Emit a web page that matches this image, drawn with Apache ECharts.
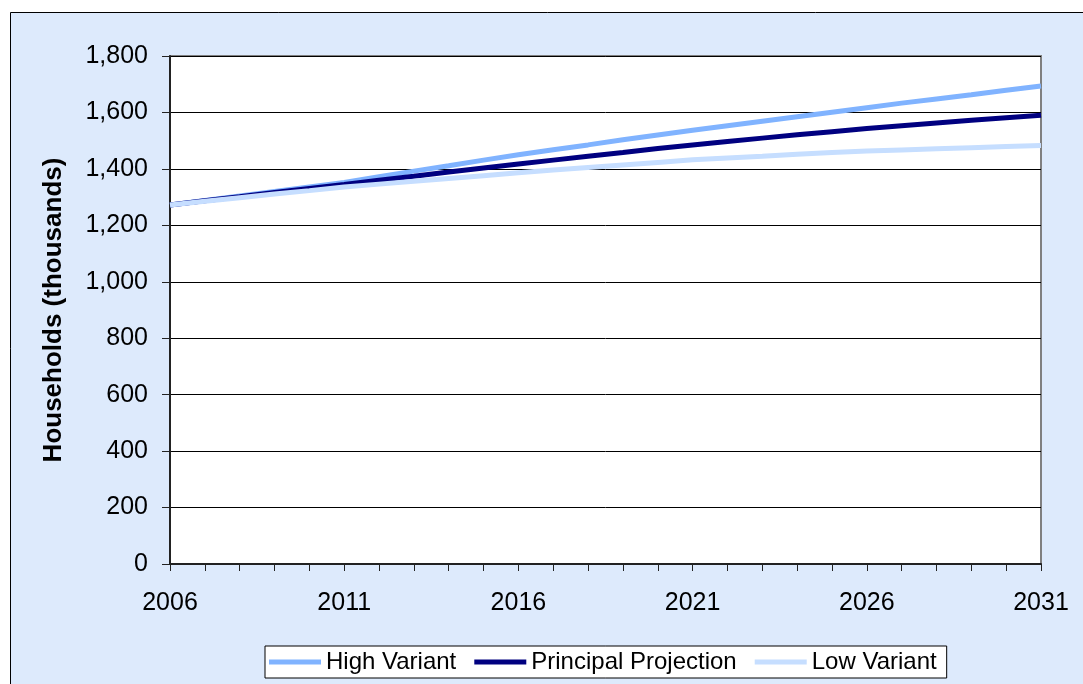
<!DOCTYPE html>
<html>
<head>
<meta charset="utf-8">
<title>Households projections</title>
<script src="https://cdn.jsdelivr.net/npm/echarts@6/dist/echarts.min.js"></script>
<style>
  html, body { margin: 0; padding: 0; background: #fff; }
  #newCharts { width: 1083px; height: 684px; }
</style>
</head>
<body>
<div id="newCharts"></div>
<script>
// 年份
const years = ['2006', '2007', '2008', '2009', '2010', '2011', '2012', '2013', '2014', '2015',
  '2016', '2017', '2018', '2019', '2020', '2021', '2022', '2023', '2024', '2025',
  '2026', '2027', '2028', '2029', '2030', '2031'];
// households, thousands
const highVariant = [1272, 1288, 1304, 1320, 1336, 1352, 1372, 1392, 1411, 1431,
  1450, 1468, 1485, 1503, 1520, 1537, 1553, 1569, 1585, 1601,
  1617, 1633, 1648, 1663, 1679, 1694];
const principalProjection = [1272, 1287, 1301, 1316, 1331, 1345, 1360, 1374, 1389, 1403,
  1417, 1431, 1445, 1458, 1472, 1485, 1497, 1509, 1521, 1532,
  1543, 1553, 1563, 1572, 1581, 1590];
const lowVariant = [1272, 1285, 1298, 1311, 1323, 1336, 1346, 1356, 1366, 1376,
  1386, 1396, 1405, 1414, 1423, 1432, 1439, 1445, 1452, 1458,
  1463, 1467, 1471, 1475, 1479, 1483];
const yTicks = { min: 0, max: 1800, interval: 200 };

const font = '"Liberation Sans", Arial, sans-serif';
const myChart = echarts.init(document.getElementById('newCharts'));

function makeLine(name, data, color) {
  return {
    name: name,
    type: 'line',
    data: data,
    symbol: 'none',
    smooth: false,
    lineStyle: { color: color, width: 5 },
    itemStyle: { color: color },
    z: 3
  };
}

const option = {
  animation: false,
  textStyle: { fontFamily: font },
  // 外框
  graphic: [{
    type: 'rect',
    left: 10, top: 12,
    shape: { width: 1090, height: 690 },
    style: { fill: '#DDEAFC', stroke: '#000', lineWidth: 1 },
    z: -10
  }],
  grid: {
    left: 170, top: 56, right: 42, bottom: 120,
    show: true,
    backgroundColor: '#fff',
    borderColor: '#808080',
    borderWidth: 2
  },
  legend: {
    left: 265, top: 646,
    padding: [4, 10, 4, 4],
    itemGap: 18,
    itemWidth: 52,
    itemHeight: 5,
    icon: 'rect',
    backgroundColor: '#fff',
    borderColor: '#000',
    borderWidth: 1,
    borderRadius: 0,
    textStyle: { fontFamily: font, fontSize: 24, color: '#000' },
    data: ['High Variant', 'Principal Projection', 'Low Variant']
  },
  xAxis: {
    type: 'category',
    data: years,
    boundaryGap: false,
    axisLine: { lineStyle: { color: '#222', width: 2 } },
    axisTick: { show: true, interval: 0, length: 7, lineStyle: { color: '#222' } },
    axisLabel: {
      interval: 4,
      margin: 27,
      fontSize: 25,
      color: '#000',
      fontFamily: font
    },
    splitLine: { show: false }
  },
  yAxis: {
    type: 'value',
    min: yTicks.min,
    max: yTicks.max,
    interval: yTicks.interval,
    name: 'Households (thousands)',
    nameLocation: 'middle',
    nameGap: 103,
    nameTextStyle: { fontSize: 26, fontWeight: 'bold', color: '#000', fontFamily: font },
    axisLine: { show: true, lineStyle: { color: '#222', width: 2 } },
    axisTick: { show: true, length: 8, lineStyle: { color: '#222' } },
    axisLabel: {
      margin: 22,
      fontSize: 25,
      color: '#000',
      fontFamily: font,
      formatter: function (v) { return v.toLocaleString('en-US'); }
    },
    splitLine: { show: true, lineStyle: { color: '#000', width: 1 } }
  },
  series: [
    makeLine('High Variant', highVariant, '#80B3FF'),
    makeLine('Principal Projection', principalProjection, '#000080'),
    makeLine('Low Variant', lowVariant, '#C6DEFF')
  ]
};
myChart.setOption(option);
</script>
</body>
</html>
